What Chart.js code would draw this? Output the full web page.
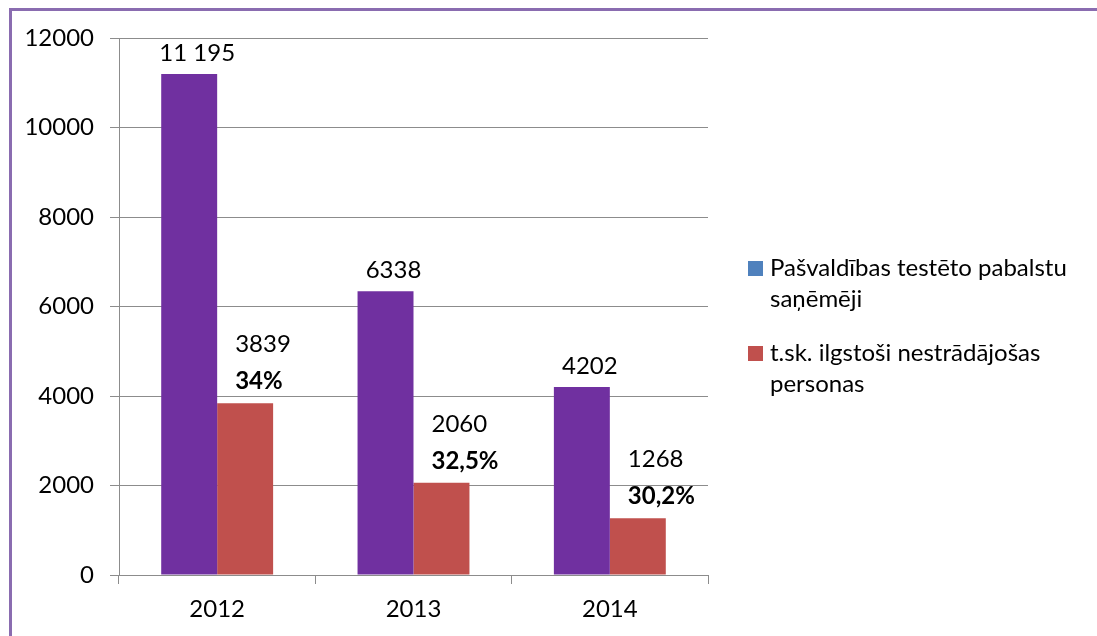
<!DOCTYPE html>
<html>
<head>
<meta charset="utf-8">
<script src="https://cdn.jsdelivr.net/npm/chart.js@4/dist/chart.umd.min.js"></script>
<style>
  html, body { margin: 0; padding: 0; background: #fff; }
  #wrap { width: 1097px; height: 636px; }
</style>
</head>
<body>
<div id="wrap"><canvas id="chart" width="1097" height="636"></canvas></div>
<script>
// chart data
const years = ['2012', '2013', '2014'];
const recipients = [11195, 6338, 4202];
const longTerm = [3839, 2060, 1268];
const recipientLabels = ['11 195', '6338', '4202'];
const longTermLabels = ['3839', '2060', '1268'];
const shareLabels = ['34%', '32,5%', '30,2%'];
const seriesNames = ['Pašvaldības testēto pabalstu saņēmēji', 't.sk. ilgstoši nestrādājošas personas'];
const legendColors = ['#4F81BD', '#C0504D'];

const FONT = 'Lato, "Open Sans", sans-serif';
const SIZE = 24;

// purple frame on the left and top
const framePlugin = {
  id: 'frame',
  beforeDraw: (chart) => {
    const ctx = chart.ctx;
    ctx.save();
    ctx.fillStyle = '#fff';
    ctx.fillRect(0, 0, chart.width, chart.height);
    ctx.strokeStyle = '#8A6CB0';
    ctx.lineWidth = 3;
    ctx.beginPath();
    ctx.moveTo(10.5, chart.height);
    ctx.lineTo(10.5, 9.5);
    ctx.lineTo(chart.width, 9.5);
    ctx.stroke();
    ctx.restore();
  }
};

// value labels above the bars
const labelPlugin = {
  id: 'barLabels',
  afterDatasetsDraw: (chart) => {
    const ctx = chart.ctx;
    ctx.save();
    ctx.fillStyle = '#000';
    ctx.textBaseline = 'middle';
    chart.getDatasetMeta(0).data.forEach((bar, i) => {
      ctx.font = SIZE + 'px ' + FONT;
      ctx.textAlign = 'center';
      ctx.fillText(recipientLabels[i], bar.x + 8, bar.y - 21);
    });
    chart.getDatasetMeta(1).data.forEach((bar, i) => {
      ctx.textAlign = 'left';
      ctx.font = SIZE + 'px ' + FONT;
      ctx.fillText(longTermLabels[i], bar.x - 10, bar.y - 59);
      ctx.font = 'bold ' + SIZE + 'px ' + FONT;
      ctx.fillText(shareLabels[i], bar.x - 10, bar.y - 22);
    });
    ctx.restore();
  }
};

// legend on the right, wrapped over two lines
const legendPlugin = {
  id: 'sideLegend',
  afterDraw: (chart) => {
    const ctx = chart.ctx;
    ctx.save();
    ctx.font = SIZE + 'px ' + FONT;
    ctx.textBaseline = 'middle';
    ctx.textAlign = 'left';
    const maxW = 320;
    let y = 268;
    seriesNames.forEach((name, i) => {
      const words = name.split(' ');
      const lines = [];
      let line = '';
      words.forEach((w) => {
        const test = line ? line + ' ' + w : w;
        if (ctx.measureText(test).width > maxW && line) {
          lines.push(line);
          line = w;
        } else {
          line = test;
        }
      });
      lines.push(line);
      ctx.fillStyle = legendColors[i];
      ctx.fillRect(748, y - 7, 15, 15);
      ctx.fillStyle = '#000';
      lines.forEach((l, j) => ctx.fillText(l, 770, y + j * 31));
      y += lines.length * 31 + 23;
    });
    ctx.restore();
  }
};

const ctx = document.getElementById('chart').getContext('2d');

new Chart(ctx, {
  type: 'bar',
  data: {
    labels: years,
    datasets: [
      { label: seriesNames[0], data: recipients, backgroundColor: '#7030A0' },
      { label: seriesNames[1], data: longTerm, backgroundColor: '#C0504D' }
    ]
  },
  options: {
    responsive: false,
    animation: false,
    layout: { padding: { top: 38, right: 389, left: 0, bottom: 0 } },
    categoryPercentage: 0.57,
    barPercentage: 1.0,
    plugins: {
      legend: { display: false },
      tooltip: { enabled: false }
    },
    scales: {
      y: {
        min: 0,
        max: 12000,
        ticks: {
          stepSize: 2000,
          padding: 16,
          color: '#000',
          font: { family: FONT, size: SIZE },
          callback: (v) => String(v)
        },
        grid: { color: '#8c8c8c', lineWidth: 1, tickLength: 9 },
        border: { color: '#8c8c8c', width: 1 },
        afterFit: (scale) => { scale.width = 119; }
      },
      x: {
        ticks: {
          padding: 11,
          color: '#000',
          font: { family: FONT, size: SIZE }
        },
        grid: { offset: true, drawOnChartArea: false, color: '#8c8c8c', tickLength: 9 },
        border: { color: '#8c8c8c', width: 1 },
        afterFit: (scale) => { scale.height = 61; }
      }
    }
  },
  plugins: [framePlugin, labelPlugin, legendPlugin]
});
</script>
</body>
</html>
